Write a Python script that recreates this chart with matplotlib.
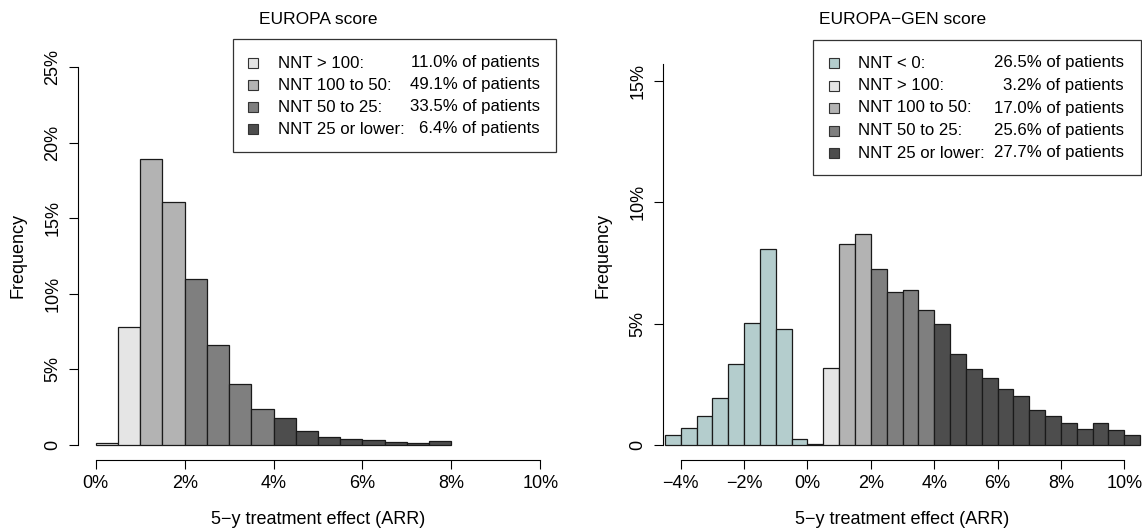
import numpy as np
import matplotlib
matplotlib.use("Agg")
import matplotlib.pyplot as plt
from matplotlib.patches import Rectangle

plt.rcParams['font.family'] = ['Liberation Sans', 'DejaVu Sans']
plt.rcParams['font.size'] = 12.5

# histogram bins, 0.5% wide
europa_start = 0.0
europa_freq = [0.1, 7.8, 18.9, 16.1, 11.0, 6.6, 4.05, 2.35, 1.8, 0.95,
               0.5, 0.42, 0.3, 0.22, 0.13, 0.25]

gen_start = -4.5
gen_freq = [0.41, 0.68, 1.21, 1.94, 3.32, 5.04, 8.06, 4.79, 0.25, 0.04,
            3.17, 8.26, 8.69, 7.24, 6.31, 6.40, 5.58, 4.97, 3.76, 3.13,
            2.76, 2.32, 2.01, 1.44, 1.19, 0.9, 0.66, 0.9, 0.63, 0.42]
bin_width = 0.5

# NNT groups (lower ARR bound of each group) and colours
group_bounds = [-np.inf, 0, 1, 2, 4]
group_cols = ['#B4CDCD', '#E5E5E5', '#B3B3B3', '#7F7F7F', '#4D4D4D']

europa_labels = ['NNT > 100:', 'NNT 100 to 50:', 'NNT 50 to 25:', 'NNT 25 or lower:']
europa_pct = ['11.0%', '49.1%', '33.5%', '6.4%']
gen_labels = ['NNT < 0:', 'NNT > 100:', 'NNT 100 to 50:', 'NNT 50 to 25:', 'NNT 25 or lower:']
gen_pct = ['26.5%', '3.2%', '17.0%', '25.6%', '27.7%']

W, H = 1142, 530
fig = plt.figure(figsize=(W / 100, H / 100), dpi=100)


def px_axes(x0, x1, y0, y1):
    return fig.add_axes([x0 / W, 1 - y1 / H, (x1 - x0) / W, (y1 - y0) / H])


def bar_colour(left):
    idx = 0
    for i, b in enumerate(group_bounds):
        if left >= b:
            idx = i
    return group_cols[idx]


def draw_hist(ax, start, freq, xlim, ylim, xticks, yticks, ytop, title):
    edges = start + bin_width * np.arange(len(freq))
    cols = [bar_colour(e) for e in edges]
    ax.bar(edges, freq, width=bin_width, align='edge', color=cols,
           edgecolor='#1a1a1a', linewidth=0.9)
    ax.set_xlim(*xlim)
    ax.set_ylim(*ylim)
    for s in ['top', 'right']:
        ax.spines[s].set_visible(False)
    ax.spines['left'].set_bounds(0, ytop)
    ax.spines['bottom'].set_bounds(xticks[0], xticks[-1])
    for s in ['left', 'bottom']:
        ax.spines[s].set_linewidth(0.8)
    ax.set_xticks(xticks)
    ax.set_xticklabels([('%d%%' % t).replace('-', '\u2212') for t in xticks])
    ax.set_yticks(yticks)
    ax.set_yticklabels(['0'] + ['%d%%' % t for t in yticks[1:]],
                       rotation=90, va='center')
    ax.tick_params(direction='out', length=6.5, width=0.8, labelsize=13)
    ax.tick_params(axis='x', pad=4.5)
    ax.tick_params(axis='y', pad=5.5)
    bb = ax.get_position()
    wpx = bb.width * W
    hpx = bb.height * H
    ax.text(-60 / wpx, 0.5, 'Frequency', transform=ax.transAxes,
            rotation=90, ha='center', va='center', fontsize=13)
    ax.text(0.5, -59 / hpx, '5\u2212y treatment effect (ARR)',
            transform=ax.transAxes, ha='center', va='center', fontsize=13)
    ax.text(0.5, 1 + 33 / hpx, title, transform=ax.transAxes,
            ha='center', va='center', fontsize=12.5)


ax1 = px_axes(78, 558, 52, 460)
draw_hist(ax1, europa_start, europa_freq, (-0.4, 10.4), (-1, 26),
          [0, 2, 4, 6, 8, 10], [0, 5, 10, 15, 20, 25], 25, 'EUROPA score')

ax2 = px_axes(663, 1142, 52, 460)
draw_hist(ax2, gen_start, gen_freq, (-4.56, 10.56), (-0.62, 16.19),
          [-4, -2, 0, 2, 4, 6, 8, 10], [0, 5, 10, 15], 15.7, 'EUROPA\u2212GEN score')

# legends drawn in pixel space on an overlay
ov = fig.add_axes([0, 0, 1, 1], zorder=10)
ov.set_xlim(0, W)
ov.set_ylim(H, 0)
ov.axis('off')
ov.patch.set_alpha(0)


def draw_legend(box, rows, sq_x, txt_x, pct_x, labels, pcts, cols):
    x0, y0, x1, y1 = box
    ov.add_patch(Rectangle((x0, y0), x1 - x0, y1 - y0, facecolor='white',
                           edgecolor='#333333', linewidth=0.9))
    for y, lab, p, c in zip(rows, labels, pcts, cols):
        ov.add_patch(Rectangle((sq_x - 5, y - 5), 10, 10, facecolor=c,
                               edgecolor='#333333', linewidth=0.8))
        ov.text(txt_x, y, lab, ha='left', va='center', fontsize=12.1)
        ov.text(pct_x, y, p + ' of patients', ha='right', va='center', fontsize=12.1)


draw_legend((233, 39, 556, 152), [63, 85, 107, 129], 253, 278, 540,
            europa_labels, europa_pct, group_cols[1:])
draw_legend((813, 40, 1141, 175), [63, 85.5, 108, 130.5, 153], 834, 858, 1124,
            gen_labels, gen_pct, group_cols)

fig.savefig('out.png', dpi=100)
